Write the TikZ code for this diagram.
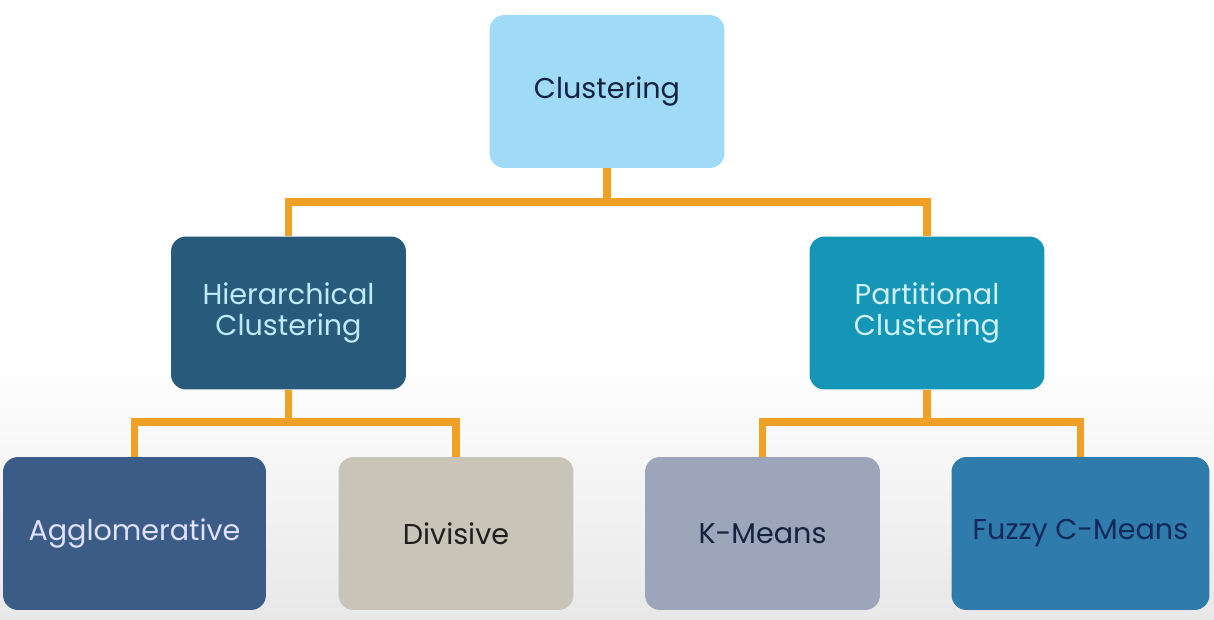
\documentclass[tikz,border=0pt]{standalone}
\usepackage{fontspec}
\setmainfont{Poppins}
\usetikzlibrary{positioning}

\definecolor{linkorange}{HTML}{F0A024}
\definecolor{rootfill}{HTML}{9FDAF6}
\definecolor{hierfill}{HTML}{285A7C}
\definecolor{partfill}{HTML}{1596B6}
\definecolor{agglfill}{HTML}{3A5C86}
\definecolor{divfill}{HTML}{C9C4B8}
\definecolor{kmfill}{HTML}{9CA5BA}
\definecolor{fuzzfill}{HTML}{2F7BAC}
\definecolor{navytext}{HTML}{142340}
\definecolor{fuzztext}{HTML}{13295A}

\tikzset{
  box/.style={rounded corners=0.3cm, minimum width=4.7cm, minimum height=3.06cm,
    align=center, font=\fontsize{16.3}{17.8}\selectfont, inner sep=0pt},
  link/.style={draw=linkorange, line width=4pt},
}

\begin{document}
\begin{tikzpicture}[x=0.02cm, y=-0.02cm]
  \useasboundingbox (0,0) rectangle (1214,619);
  \fill[white] (0,0) rectangle (1214,360);
  \shade[top color=white, bottom color=black!9] (0,360) rectangle (1214,619);

  \node[box, fill=rootfill, text=navytext] (clu) at (607,91.5) {Clustering};
  \node[box, fill=hierfill, text=cyan!25!white] (hier) at (288.5,313) {Hierarchical\\Clustering};
  \node[box, fill=partfill, text=cyan!18!white] (part) at (927,313) {Partitional\\Clustering};
  \node[box, minimum width=5.26cm, fill=agglfill, text=blue!12!white] (aggl) at (134.5,533.5) {Agglomerative};
  \node[box, fill=divfill, text=black!88] (div) at (456,533.5) {Divisive};
  \node[box, fill=kmfill, text=navytext] (km) at (762.5,533.5) {K-Means};
  \node[box, minimum width=5.16cm, fill=fuzzfill, text=fuzztext] (fuzz) at (1080.5,533.5) {Fuzzy C-Means};

  \coordinate (j1) at (607,202);
  \coordinate (j2) at (288.5,422);
  \coordinate (j3) at (927,422);

  \draw[link] (clu.south) -- (j1);
  \draw[link] (hier.north) |- (j1) -| (part.north);
  \draw[link] (hier.south) -- (j2);
  \draw[link] (aggl.north) |- (j2) -| (div.north);
  \draw[link] (part.south) -- (j3);
  \draw[link] (km.north) |- (j3) -| (fuzz.north);
\end{tikzpicture}
\end{document}
